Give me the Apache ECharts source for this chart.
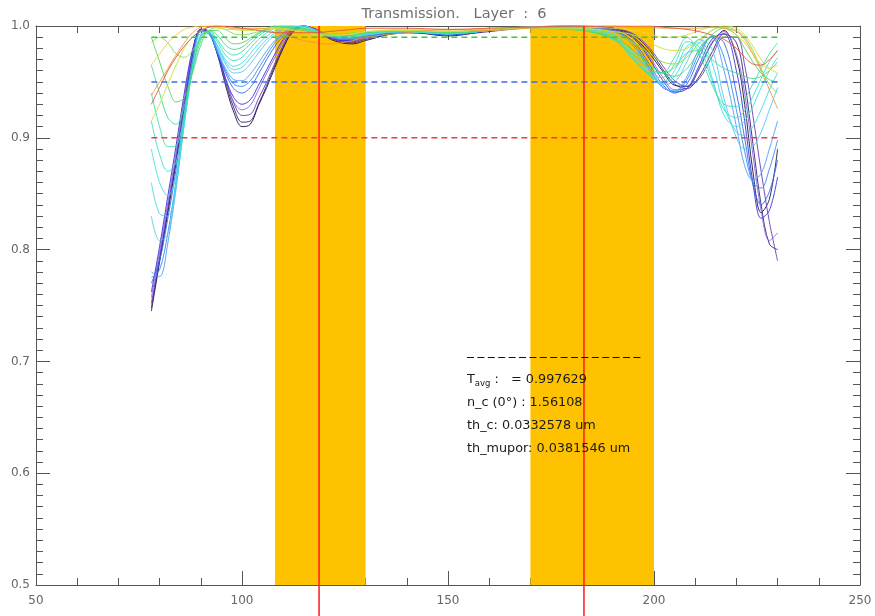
<!DOCTYPE html>
<html>
<head>
<meta charset="utf-8">
<title>Transmission. Layer : 6</title>
<script src="https://cdn.jsdelivr.net/npm/echarts@6/dist/echarts.min.js"></script>
<style>
  html, body { margin: 0; padding: 0; background: #fff; }
  #chart { width: 875px; height: 616px; }
</style>
</head>
<body>
<div id="chart"></div>
<script>
// wavelength grid shared by every transmission curve
var waveX = [78,80,82,84,86,88,90,92,94,96,98,100,102,104,106,108,110,112,115,118,121,124,127,130,140,150,160,170,180,190,195,199,202,205,208,211,214,217,220,222,224,226,228,230];

// transmission curves, dark -> red
var t00 = [.745,.789,.833,.878,.928,.974,.997,.994,.975,.947,.923,.910,.912,.929,.945,.963,.980,.993,1.0,.996,.989,.985,.984,.987,.995,.991,.996,.999,.999,.998,.99,.975,.96,.947,.946,.962,.984,.996,.972,.93,.87,.833,.845,.89];
var t01 = [.748,.791,.835,.880,.930,.975,.997,.995,.977,.950,.927,.914,.915,.930,.947,.965,.981,.994,1.0,.997,.990,.986,.985,.988,.994,.992,.995,.999,1.0,.998,.992,.978,.962,.948,.944,.955,.976,.993,.985,.950,.895,.840,.805,.800];
var t02 = [.752,.794,.838,.883,.932,.976,.997,.995,.978,.953,.931,.920,.921,.935,.950,.967,.983,.995,1.0,.997,.991,.987,.986,.989,.994,.993,.996,.999,1.0,.998,.993,.980,.965,.951,.946,.953,.972,.990,.990,.965,.920,.870,.825,.790];
var t03 = [.757,.798,.842,.887,.935,.977,.997,.994,.976,.952,.932,.925,.929,.943,.958,.972,.986,.996,1.0,.996,.990,.987,.987,.990,.995,.992,.996,.999,.999,.997,.990,.972,.955,.943,.944,.962,.985,.995,.975,.940,.885,.835,.808,.815];
var t04 = [.762,.803,.848,.893,.940,.979,.997,.994,.975,.953,.936,.930,.934,.947,.961,.975,.988,.996,1.0,.996,.990,.987,.987,.990,.995,.992,.996,.999,.999,.997,.989,.970,.952,.941,.944,.965,.988,.993,.960,.915,.860,.828,.835,.865];
var t05 = [.770,.790,.828,.872,.925,.970,.996,.993,.976,.958,.944,.940,.945,.957,.970,.982,.991,.997,1.0,.996,.991,.988,.988,.991,.995,.992,.996,.999,.999,.996,.986,.965,.948,.940,.948,.972,.990,.985,.940,.900,.858,.840,.852,.880];
var t06 = [.775,.782,.815,.862,.920,.967,.995,.993,.977,.960,.948,.946,.951,.962,.974,.985,.993,.998,1.0,.996,.991,.989,.989,.991,.995,.993,.996,.999,.999,.996,.984,.962,.946,.941,.952,.976,.991,.972,.925,.888,.860,.855,.872,.898];
var t07 = [.780,.776,.806,.856,.915,.965,.995,.993,.978,.962,.952,.951,.957,.967,.978,.987,.994,.998,1.0,.996,.991,.989,.989,.992,.995,.993,.996,.999,.999,.995,.982,.960,.945,.942,.955,.980,.990,.960,.910,.875,.862,.868,.890,.915];
var t08 = [.830,.808,.814,.855,.912,.962,.993,.993,.980,.966,.958,.959,.966,.976,.985,.992,.997,.999,1.0,.996,.992,.990,.990,.992,.995,.993,.996,.999,.998,.993,.978,.958,.948,.950,.968,.988,.980,.935,.900,.890,.892,.905,.925,.945];
var t09 = [.860,.832,.830,.860,.913,.962,.992,.994,.982,.968,.961,.963,.971,.980,.988,.994,.998,1.0,1.0,.996,.992,.990,.990,.993,.995,.993,.996,.998,.998,.992,.975,.956,.949,.955,.975,.988,.968,.928,.905,.902,.910,.925,.943,.958];
var t10 = [.890,.860,.848,.866,.915,.962,.992,.994,.983,.970,.964,.967,.975,.984,.991,.996,.999,1.0,.999,.995,.992,.991,.991,.993,.995,.993,.996,.998,.998,.990,.972,.955,.950,.960,.982,.985,.955,.920,.910,.915,.928,.945,.960,.972];
var t11 = [.915,.885,.870,.878,.918,.962,.991,.995,.986,.974,.969,.972,.980,.988,.994,.998,1.0,1.0,.998,.995,.992,.991,.991,.993,.995,.993,.996,.998,.998,.989,.971,.956,.954,.966,.986,.981,.952,.925,.918,.924,.937,.953,.968,.978];
var t12 = [.940,.910,.892,.893,.922,.962,.990,.996,.988,.978,.974,.977,.984,.991,.996,.999,1.0,.999,.997,.994,.992,.991,.992,.994,.995,.993,.996,.998,.997,.988,.970,.958,.958,.972,.990,.975,.948,.930,.928,.935,.948,.962,.975,.985];
var t13 = [.965,.940,.918,.912,.928,.960,.987,.996,.992,.983,.979,.981,.987,.993,.997,1.0,1.0,.999,.997,.994,.992,.991,.992,.994,.996,.994,.996,.998,.997,.989,.974,.962,.958,.963,.976,.978,.970,.962,.958,.955,.953,.955,.960,.968];
var t14 = [.990,.968,.946,.932,.936,.958,.983,.996,.996,.989,.984,.985,.989,.994,.998,1.0,.999,.998,.996,.993,.992,.992,.993,.994,.996,.994,.996,.998,.997,.990,.978,.965,.958,.955,.962,.978,.992,.998,.992,.980,.968,.958,.952,.950];
var t15 = [.985,.990,.985,.975,.972,.978,.988,.996,.999,.997,.993,.992,.993,.995,.997,.998,.998,.997,.995,.993,.993,.993,.994,.995,.996,.995,.997,.998,.997,.992,.985,.975,.968,.966,.972,.985,.996,.999,.996,.990,.978,.962,.948,.940];
var t16 = [.915,.930,.948,.965,.980,.990,.996,.999,1.0,.999,.997,.996,.996,.997,.998,.998,.998,.997,.995,.993,.992,.992,.993,.995,.996,.995,.997,.998,.998,.995,.992,.985,.980,.978,.980,.988,.996,1.0,.998,.992,.982,.970,.962,.958];
var t17 = [.965,.975,.985,.992,.997,.999,1.0,.999,.998,.997,.997,.997,.997,.998,.998,.998,.997,.996,.994,.992,.991,.992,.993,.995,.997,.996,.998,.999,.999,.998,.996,.993,.990,.990,.992,.996,.999,.998,.992,.985,.975,.966,.962,.965];
var t18 = [.938,.950,.962,.974,.985,.994,.999,1.0,1.0,.999,.998,.998,.998,.998,.997,.994,.992,.990,.987,.985,.984,.985,.987,.990,.994,.997,.996,.998,.999,1.0,.999,.999,.998,.998,.998,.998,.999,.998,.995,.988,.975,.960,.943,.926];
var t19 = [.930,.945,.960,.972,.982,.990,.996,.999,1.0,1.0,.999,.998,.997,.996,.995,.994,.994,.994,.994,.994,.995,.996,.997,.998,.998,.997,.998,.999,1.0,1.0,1.0,1.0,.999,.998,.997,.995,.992,.988,.980,.972,.966,.965,.970,.978];

var curveList = [t00,t01,t02,t03,t04,t05,t06,t07,t08,t09,t10,t11,t12,t13,t14,t15,t16,t17,t18,t19];
var curveColors = ['#1c1438','#3c2078','#6a3cb8','#8a68e0','#3a30d8','#2f6cf0','#3c88f4','#4aa0f4','#58c8f0','#48d8e8',
                   '#40e0e0','#40e0c8','#40e0b0','#44dc90','#48d870','#80e040','#c8e040','#f0d040','#f09838','#e05838'];

var bandRanges = [[108, 130], [170, 200]];
var centerLines = [118.7, 183];
var limitLevels = [0.99, 0.95, 0.9];
var limitColors = ['#3cc83c', '#3a6ff0', '#f03c3c'];
var limitSpan = [78, 230];

var infoRows = [
  '{a|T}{s|avg}{a| :   = 0.997629}',
  '{a|n_c (0°) : 1.56108}',
  '{a|th_c: 0.0332578 um}',
  '{a|th_mupor: 0.0381546 um}'
];

var chart = echarts.init(document.getElementById('chart'));
var fontFam = 'DejaVu Sans';
var frameColor = '#555';

var seriesList = [];

// yellow bands
seriesList.push({
  type: 'line',
  data: [],
  silent: true,
  markArea: {
    silent: true,
    itemStyle: { color: '#ffc200', opacity: 1 },
    data: bandRanges.map(function (r) { return [{ xAxis: r[0] }, { xAxis: r[1] }]; })
  }
});

curveList.forEach(function (ys, k) {
  seriesList.push({
    type: 'line',
    showSymbol: false,
    smooth: 0.35,
    z: 3,
    lineStyle: { width: 1, color: curveColors[k], opacity: 0.9 },
    data: waveX.map(function (x, i) { return [x, ys[i]]; })
  });
});

limitLevels.forEach(function (lv, k) {
  seriesList.push({
    type: 'line',
    showSymbol: false,
    z: 5,
    lineStyle: { width: 1.5, color: limitColors[k], type: [6, 4] },
    data: [[limitSpan[0], lv], [limitSpan[1], lv]]
  });
});

// red centre lines, running past the x axis to the bottom of the page
seriesList.push({
  type: 'custom',
  clip: false,
  z: 10,
  data: centerLines.map(function (v) { return [v, 1.0]; }),
  renderItem: function (params, api) {
    var p = api.coord([api.value(0), api.value(1)]);
    return {
      type: 'line',
      shape: { x1: p[0], y1: p[1], x2: p[0], y2: api.getHeight() },
      style: { stroke: '#ff1a1a', lineWidth: 1.5 }
    };
  }
});

var xBase = {
  type: 'value', min: 50, max: 250, interval: 50,
  axisLine: { show: true, onZero: false, lineStyle: { color: frameColor, width: 1 } },
  axisTick: { show: true, inside: true, length: 14, lineStyle: { color: frameColor } },
  minorTick: { show: true, splitNumber: 5, length: 7, lineStyle: { color: frameColor } },
  splitLine: { show: false }
};
var yBase = {
  type: 'value', min: 0.5, max: 1.0, interval: 0.1,
  axisLine: { show: true, onZero: false, lineStyle: { color: frameColor, width: 1 } },
  axisTick: { show: true, inside: true, length: 14, lineStyle: { color: frameColor } },
  minorTick: { show: true, splitNumber: 10, length: 7, lineStyle: { color: frameColor } },
  splitLine: { show: false }
};

var option = {
  animation: false,
  backgroundColor: '#fff',
  title: {
    text: 'Transmission.   Layer  :  6',
    left: 449, top: 2, textAlign: 'center',
    textStyle: { fontFamily: fontFam, fontSize: 14.5, fontWeight: 'normal', color: '#707070' }
  },
  grid: { left: 36, right: 15, top: 26, bottom: 31, containLabel: false },
  xAxis: [
    Object.assign({}, xBase, {
      position: 'bottom',
      axisLabel: { color: '#666', fontFamily: fontFam, fontSize: 12, margin: 10 }
    }),
    Object.assign({}, xBase, { position: 'top', axisLabel: { show: false } })
  ],
  yAxis: [
    Object.assign({}, yBase, {
      position: 'left',
      axisLabel: {
        color: '#666', fontFamily: fontFam, fontSize: 12, margin: 6,
        formatter: function (v) { return v.toFixed(1); }
      }
    }),
    Object.assign({}, yBase, { position: 'right', axisLabel: { show: false } })
  ],
  series: seriesList,
  graphic: [
    {
      type: 'line', z: 20,
      shape: { x1: 467, y1: 357.5, x2: 643, y2: 357.5 },
      style: { stroke: '#111', lineWidth: 1, lineDash: [7, 3.4] }
    }
  ].concat(infoRows.map(function (t, i) {
    return {
      type: 'text', z: 20, x: 467, y: 380 + i * 23,
      style: {
        text: t, verticalAlign: 'middle',
        rich: {
          a: { fontFamily: fontFam, fontSize: 12.8, fill: '#1a1a1a', color: '#1a1a1a' },
          s: { fontFamily: fontFam, fontSize: 8.5, fill: '#1a1a1a', color: '#1a1a1a', padding: [8, 0, 0, 0] }
        }
      }
    };
  }))
};

chart.setOption(option);
</script>
</body>
</html>
